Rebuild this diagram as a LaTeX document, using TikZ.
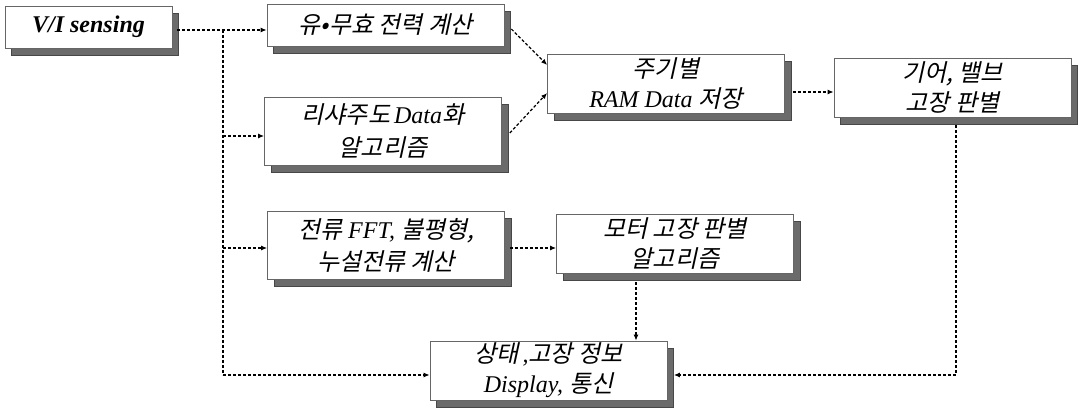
\documentclass[tikz,border=0pt]{standalone}
\usepackage{fontspec}
\setmainfont{Liberation Serif}
\newfontfamily\kr{Noto Sans CJK KR}[FakeSlant=0.22]
\usetikzlibrary{positioning}
\usetikzlibrary{shadows}
\usetikzlibrary{arrows.meta}

\begin{document}
\begin{tikzpicture}[x=1pt,y=-1pt,
 blk/.style={draw=black!60,line width=0.7pt,fill=white,inner sep=0pt,align=center,
  minimum width=237pt,minimum height=59pt,
  font=\fontsize{24}{30}\selectfont\itshape,
  general shadow={fill=black!58,draw=black!72,shadow xshift=6.5pt,shadow yshift=-7.5pt}},
 link/.style={line width=1.2pt,dash pattern=on 3pt off 2pt},
 flow/.style={link,-{Latex[length=6pt,width=5pt]}}]
 \useasboundingbox (0,0) rectangle (1079,411);
 \node[blk,minimum width=167pt,minimum height=42pt] (vi) at (88.5,27) {\bfseries V/I sensing};
 \node[blk,minimum height=42pt] (pq) at (385.5,25) {\kr 유•무효 전력 계산};
 \node[blk,minimum height=68pt,font=\fontsize{24}{33}\selectfont\itshape] (lis) at (383,131) {{\kr 리샤주도}\,Data{\kr 화}\\{\kr 알고리즘}};
 \node[blk] (ram) at (666,83.5) {{\kr 주기별}\\RAM Data {\kr 저장}};
 \node[blk] (gear) at (952.5,87.5) {{\kr 기어, 밸브}\\{\kr 고장 판별}};
 \node[blk,minimum height=68pt,font=\fontsize{24}{32}\selectfont\itshape] (fft) at (386,245) {{\kr 전류} FFT, {\kr 불평형,}\\{\kr 누설전류 계산}};
 \node[blk] (motor) at (675,243.5) {{\kr 모터 고장 판별}\\{\kr 알고리즘}};
 \node[blk] (disp) at (548.5,370.5) {{\kr 상태}\,,{\kr 고장 정보}\\Display, {\kr 통신}};
 \coordinate (t1) at (223,30);
 \coordinate (t2) at (223,136);
 \coordinate (t3) at (223,248);
 \coordinate (t4) at (223,375);
 \coordinate (m1) at ([xshift=-39pt,yshift=-9pt]motor.south);
 \draw[flow,shorten <=5pt] (vi.east |- t1) -- (pq.west |- t1);
 \draw[link] (t1) -- (t4);
 \draw[flow] (t2) -- (lis.west |- t2);
 \draw[flow] (t3) -- (fft.west |- t3);
 \draw[flow] (t4) -- (disp.west |- t4);
 \draw[flow] ([xshift=7pt,yshift=-4pt]pq.east) -- ([yshift=18.5pt]ram.west);
 \draw[flow] ([xshift=8pt,yshift=-2pt]lis.east) -- ([yshift=-9.5pt]ram.west);
 \draw[flow] ([xshift=8pt,yshift=-8.5pt]ram.east) -- ([yshift=-4.5pt]gear.west);
 \draw[flow] ([xshift=3.5pt,yshift=-8pt]gear.south) |- ([xshift=6.5pt,yshift=-4.5pt]disp.east);
 \draw[flow] ([xshift=5pt,yshift=-3pt]fft.east) -- ([yshift=-4.5pt]motor.west);
 \draw[flow] (m1) -- (m1 |- disp.north);
\end{tikzpicture}
\end{document}
